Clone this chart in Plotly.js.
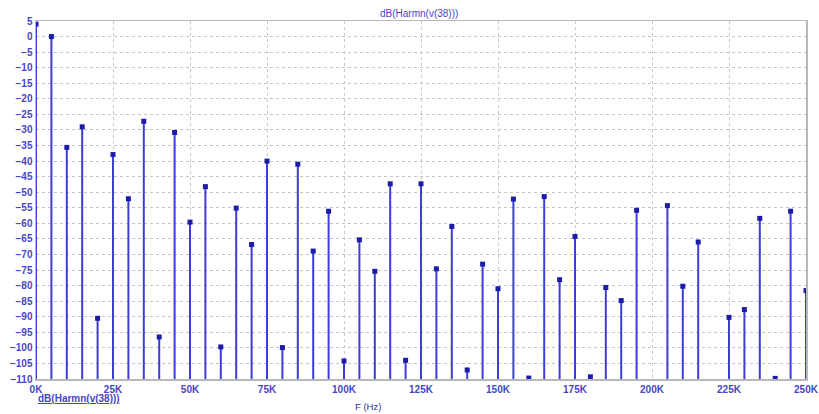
<!DOCTYPE html>
<html>
<head>
<meta charset="utf-8">
<script src="https://cdn.plot.ly/plotly-3.0.1.min.js"></script>
<style>html,body{margin:0;padding:0;background:#fff;}#chart{width:819px;height:414px;}</style>
</head>
<body>
<div id="chart"></div>
<script>
// Harmonic frequencies (Hz)
const freqs = [0,5000,10000,15000,20000,25000,30000,35000,40000,45000,50000,
  55000,60000,65000,70000,75000,80000,85000,90000,95000,100000,
  105000,110000,115000,120000,125000,130000,135000,140000,145000,150000,
  155000,160000,165000,170000,175000,180000,185000,190000,195000,200000,
  205000,210000,215000,220000,225000,230000,235000,240000,245000,250000];
// dB(Harmn(v(38))) values; null = below plot range
const dbValues = [4,0,-35.6,-29.0,-90.5,-37.9,-52.1,-27.2,-96.5,-30.8,-59.6,
  -48.2,-99.7,-55.1,-66.8,-40.0,-99.9,-41.0,-68.9,-56.1,-104.2,
  -65.3,-75.4,-47.3,-104.0,-47.3,-74.6,-61.0,-107.1,-73.1,-81.0,
  -52.2,-109.7,-51.4,-78.1,-64.2,-109.3,-80.6,-84.8,-55.8,null,
  -54.3,-80.2,-66.0,null,-90.2,-87.7,-58.4,-109.8,-56.1,-81.6];
const xTickVals = [0,25000,50000,75000,100000,125000,150000,175000,200000,225000,250000];
const xTickText = ['0K','25K','50K','75K','100K','125K','150K','175K','200K','225K','250K'];
const yTickVals = [5,0,-5,-10,-15,-20,-25,-30,-35,-40,-45,-50,-55,-60,-65,-70,-75,-80,-85,-90,-95,-100,-105,-110];
const traceName = 'dB(Harmn(v(38)))';

const yMin = -110, yMax = 5;
const sx = [], sy = [];
freqs.forEach((f, i) => {
  if (dbValues[i] === null) return;
  sx.push(f, f, null);
  sy.push(yMin, dbValues[i], null);
});

const tickFont = {family: 'Arial, Liberation Sans, sans-serif', size: 10, color: '#4646c8', weight: 'bold'};

const data = [
  {x: sx, y: sy, type: 'scatter', mode: 'lines', line: {color: '#3c3cd8', width: 2},
   hoverinfo: 'skip', showlegend: false},
  {x: freqs, y: dbValues, type: 'scatter', mode: 'markers', name: traceName,
   marker: {symbol: 'square', size: 5, color: '#1c1ca8'}, cliponaxis: true, showlegend: false}
];

const layout = {
  width: 819, height: 414,
  margin: {l: 36, r: 13, t: 21, b: 35},
  paper_bgcolor: '#fff', plot_bgcolor: '#fff',
  showlegend: false,
  xaxis: {
    range: [0, 250000], tickvals: xTickVals, ticktext: xTickText,
    tickfont: tickFont, ticks: '', ticklen: 0,
    showgrid: true, gridcolor: '#cacaca', griddash: 'dot', gridwidth: 1,
    showline: true, linecolor: '#b8b8b8', linewidth: 1.5, mirror: true,
    zeroline: false, tickangle: 0
  },
  yaxis: {
    range: [yMin, yMax], tickvals: yTickVals,
    tickfont: tickFont, ticks: '', ticklen: 0,
    showgrid: true, gridcolor: '#c4c4c4', griddash: 'dot', gridwidth: 1,
    showline: true, linecolor: '#b8b8b8', linewidth: 1.5, mirror: true,
    zeroline: false
  },
  annotations: [
    {text: 'dB(Harmn(v(38)))', xref: 'paper', yref: 'paper', x: 0.497, y: 1, yshift: 0,
     xanchor: 'center', yanchor: 'bottom', showarrow: false,
     font: {family: 'Arial, Liberation Sans, sans-serif', size: 10, color: '#4646c8'}},
    {text: '<u>dB(Harmn(v(38)))</u>', xref: 'paper', yref: 'paper', x: 0, y: 0, yshift: -12,
     xanchor: 'left', yanchor: 'top', showarrow: false,
     font: {family: 'Arial, Liberation Sans, sans-serif', size: 10, color: '#4646c8', weight: 'bold'}},
    {text: 'F (Hz)', xref: 'paper', yref: 'paper', x: 0.431, y: 0, yshift: -20,
     xanchor: 'center', yanchor: 'top', showarrow: false,
     font: {family: 'Arial, Liberation Sans, sans-serif', size: 9.5, color: '#30309a'}}
  ]
};

Plotly.newPlot('chart', data, layout, {displayModeBar: false, staticPlot: true});
</script>
</body>
</html>
